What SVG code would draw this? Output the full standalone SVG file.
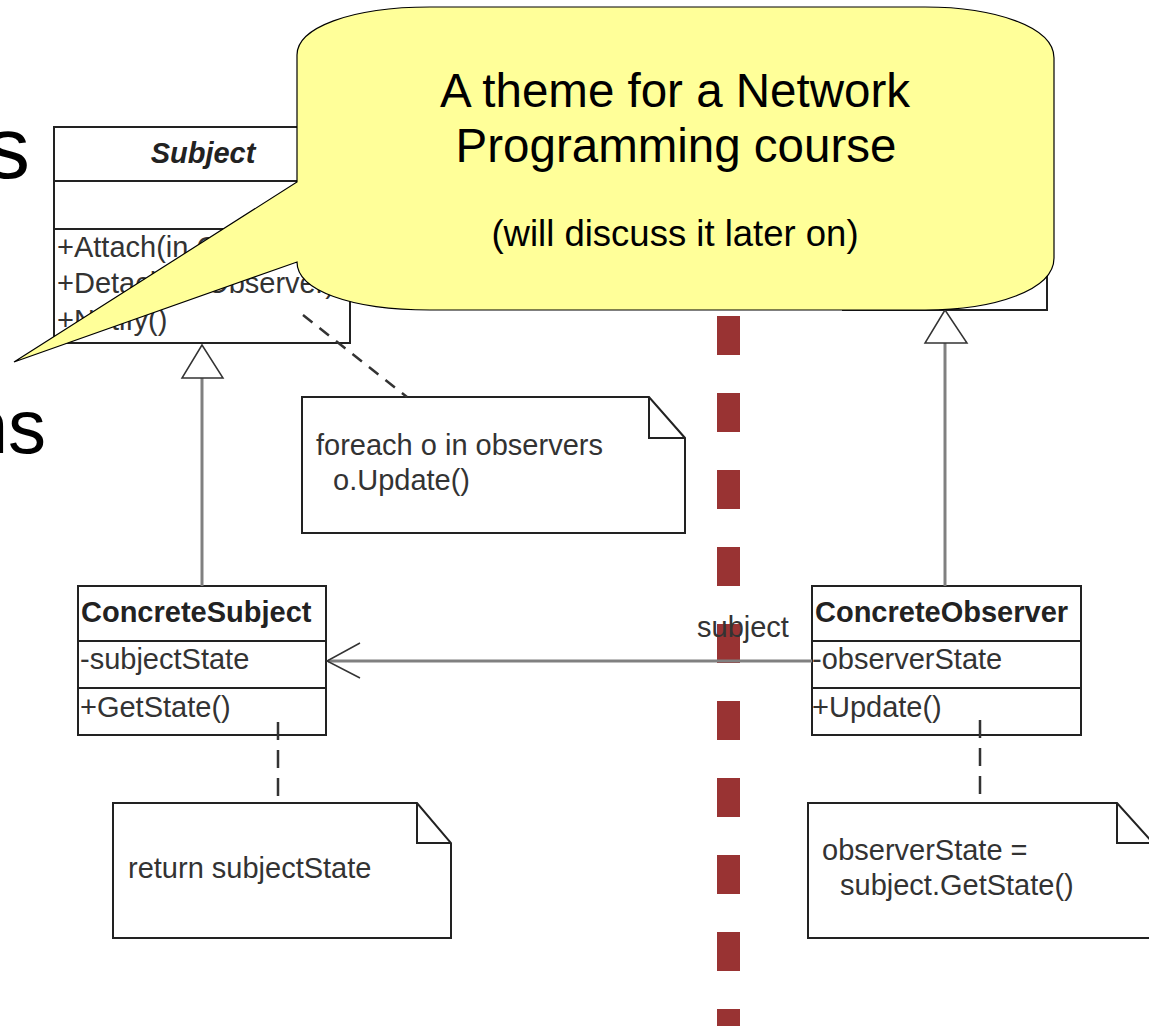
<svg xmlns="http://www.w3.org/2000/svg" width="1149" height="1026" viewBox="0 0 1149 1026">
<style>
.box{fill:#fff;stroke:#222;stroke-width:2}
.div{stroke:#222;stroke-width:2;fill:none}
.t{font-family:"Liberation Sans",Arial,sans-serif;fill:#333;font-size:29px}
.b{font-weight:bold;fill:#222}
.conn{stroke:#808080;stroke-width:3;fill:none}
.tri{fill:#fff;stroke:#333;stroke-width:1.5}
.arr{stroke:#333;stroke-width:1.5;fill:none}
.dash{stroke:#333;stroke-width:2.5;fill:none;stroke-dasharray:12 9}
.note{fill:#fff;stroke:#222;stroke-width:2}
.big{font-family:"Liberation Sans",Arial,sans-serif;fill:#000}
</style>
<rect width="1149" height="1026" fill="#fff"/>
<g id="bg-text">
<text class="big" x="30" y="178" font-size="88" text-anchor="end">s</text>
<text class="big" x="46" y="453" font-size="76" text-anchor="end">ns</text>
</g>
<g id="subject">
<rect class="box" x="54" y="127" width="296" height="216"/>
<line class="div" x1="54" y1="181" x2="350" y2="181"/>
<line class="div" x1="54" y1="229" x2="350" y2="229"/>
<text class="t b" x="203" y="163" text-anchor="middle" font-style="italic" font-size="27">Subject</text>
<text class="t" x="57" y="257">+Attach(in Observer)</text>
<text class="t" x="57" y="293">+Detach(in Observer)</text>
<text class="t" x="57" y="330">+Notify()</text>
</g>
<g id="observer">
<rect class="box" x="843" y="127" width="204" height="183"/>
</g>
<g id="concrete-subject">
<rect class="box" x="78" y="586" width="248" height="149"/>
<line class="div" x1="78" y1="641" x2="326" y2="641"/>
<line class="div" x1="78" y1="688" x2="326" y2="688"/>
<text class="t b" x="81" y="622" font-size="30">ConcreteSubject</text>
<text class="t" x="80" y="669">-subjectState</text>
<text class="t" x="80" y="717">+GetState()</text>
</g>
<g id="concrete-observer">
<rect class="box" x="812" y="586" width="269" height="149"/>
<line class="div" x1="812" y1="641" x2="1081" y2="641"/>
<line class="div" x1="812" y1="688" x2="1081" y2="688"/>
<text class="t b" x="815" y="622" font-size="30">ConcreteObserver</text>
<text class="t" x="812" y="669">-observerState</text>
<text class="t" x="812" y="717">+Update()</text>
</g>
<g id="note-notify">
<path class="note" d="M302,397 H649 L685,438 V533 H302 Z"/>
<path class="div" d="M649,397 V438 H685"/>
<text class="t" x="316" y="455">foreach o in observers</text>
<text class="t" x="333" y="490">o.Update()</text>
</g>
<g id="note-getstate">
<path class="note" d="M113,803 H417 L451,843 V938 H113 Z"/>
<path class="div" d="M417,803 V843 H451"/>
<text class="t" x="128" y="878">return subjectState</text>
</g>
<g id="note-update">
<path class="note" d="M808,803 H1117 L1153,843 V938 H808 Z"/>
<path class="div" d="M1117,803 V843 H1153"/>
<text class="t" x="822" y="860">observerState =</text>
<text class="t" x="840" y="895">subject.GetState()</text>
</g>
<g id="divider">
<line x1="728.5" y1="316" x2="728.5" y2="1030" stroke="#993333" stroke-width="23" stroke-dasharray="39 38"/>
</g>
<g id="connectors">
<line class="conn" x1="202" y1="586" x2="202" y2="378"/>
<polygon class="tri" points="202,345 182,378 223,378"/>
<line class="conn" x1="945" y1="586" x2="945" y2="343"/>
<polygon class="tri" points="945,310 925,343 967,343"/>
<line class="conn" x1="812" y1="661" x2="328" y2="661"/>
<path class="arr" d="M360,643 L327,661 L360,678"/>
<text class="t" x="697" y="637">subject</text>
<line class="dash" x1="303" y1="315" x2="407" y2="397"/>
<line class="dash" x1="278" y1="722" x2="278" y2="803" style="stroke-dasharray:18 10"/>
<line class="dash" x1="980" y1="720" x2="980" y2="803" style="stroke-dasharray:18 10"/>
</g>
<g id="callout">
<path d="M297,182 V55 C297,28 350,7 430,7 H925 C995,7 1054,27 1054,58 V258 C1054,290 995,310 925,310 H430 C350,310 297,290 297,262 L14,362 Z" fill="#ffff99" stroke="#000" stroke-width="1.2"/>
<text class="big" x="675" y="107" font-size="47.5" text-anchor="middle">A theme for a Network</text>
<text class="big" x="676" y="162" font-size="47.5" text-anchor="middle">Programming course</text>
<text class="big" x="675" y="246" font-size="36.5" text-anchor="middle">(will discuss it later on)</text>
</g>
</svg>
